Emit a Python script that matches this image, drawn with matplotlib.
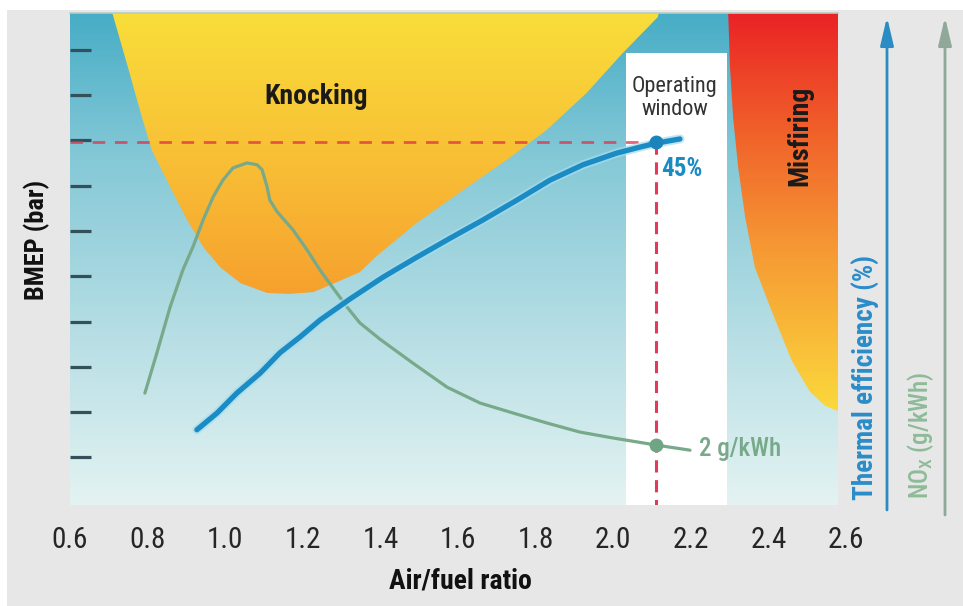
import numpy as np
import matplotlib
matplotlib.use("Agg")
import matplotlib.pyplot as plt
import matplotlib.patheffects as pe
from matplotlib.patches import Polygon, Rectangle
from matplotlib.colors import LinearSegmentedColormap

# ---- data (x = air/fuel ratio, y = BMEP tick units) ----
afr_ticks = [0.6, 0.8, 1.0, 1.2, 1.4, 1.6, 1.8, 2.0, 2.2, 2.4, 2.6]
afr_minor = [0.8, 1.0, 1.2, 1.4, 1.6, 1.8, 2.0, 2.2, 2.4]
bmep_ticks = [1, 2, 3, 4, 5, 6, 7, 8, 9, 10]

thermal_afr = [0.927, 0.979, 1.030, 1.090, 1.141, 1.193, 1.244, 1.322, 1.407, 1.494, 1.580,
               1.664, 1.752, 1.837, 1.922, 2.010, 2.069, 2.113, 2.172]
thermal_y = [1.61, 1.98, 2.42, 2.86, 3.31, 3.66, 4.03, 4.50, 4.98, 5.42, 5.84,
             6.24, 6.68, 7.12, 7.46, 7.72, 7.85, 7.94, 8.03]

nox_afr = [0.793, 0.824, 0.858, 0.891, 0.917, 0.943, 0.969, 0.994, 1.020, 1.056, 1.082,
           1.095, 1.108, 1.115, 1.134, 1.175, 1.211, 1.244, 1.278, 1.314, 1.347, 1.399,
           1.484, 1.572, 1.657, 1.742, 1.829, 1.914, 1.999, 2.113, 2.198]
nox_y = [2.42, 3.31, 4.32, 5.14, 5.65, 6.24, 6.75, 7.12, 7.39, 7.50, 7.46,
         7.35, 6.97, 6.68, 6.42, 6.02, 5.58, 5.14, 4.74, 4.32, 3.97, 3.61,
         3.08, 2.55, 2.20, 1.98, 1.76, 1.56, 1.43, 1.27, 1.16]

knock_afr = [0.706, 0.749, 0.786, 0.811, 0.858, 0.902, 0.943, 0.987, 1.039, 1.108, 1.167,
             1.227, 1.288, 1.347, 1.391, 1.494, 1.613, 1.726, 1.829, 1.932, 2.025, 2.115, 2.12]
knock_y = [10.9, 9.62, 8.49, 7.78, 6.97, 6.24, 5.65, 5.20, 4.85, 4.63, 4.61,
           4.65, 4.87, 5.09, 5.45, 6.18, 6.90, 7.57, 8.23, 9.05, 9.93, 10.72, 10.9]

misfire_afr = [2.296, 2.301, 2.309, 2.322, 2.340, 2.365, 2.409, 2.461, 2.507, 2.546, 2.566, 2.60, 2.60]
misfire_y = [10.9, 9.62, 8.51, 7.41, 6.31, 5.20, 4.22, 3.12, 2.45, 2.14, 2.07, 1.95, 10.9]

window_afr = [2.033, 2.293]
window_top = 9.93

op_afr = 2.11
op_thermal = 7.96
op_nox = 1.28

plt.rcParams['font.family'] = ['Roboto Condensed', 'DejaVu Sans']

xmin, xmax = 0.6, 2.6
panel_right = 2.579
ymin, ymax = -0.05, 10.81

fig = plt.figure(figsize=(9.63, 6.06), dpi=100)
fig.patch.set_facecolor('white')
fig.patches.append(Rectangle((7 / 963, 0), 1, 596 / 606, transform=fig.transFigure,
                             facecolor='#e7e7e7', edgecolor='none', zorder=-10))

ax = fig.add_axes([70 / 963, 101 / 606, 776 / 963, 492 / 606])
ax.patch.set_visible(False)


def vgrad(stops, y0, y1, clip=None, z=0):
    cmap = LinearSegmentedColormap.from_list('g', stops)
    grad = np.linspace(0, 1, 256).reshape(-1, 1)
    im = ax.imshow(grad, cmap=cmap, extent=[xmin, panel_right, y0, y1], origin='lower',
                   aspect='auto', zorder=z, interpolation='bilinear')
    if clip is not None:
        im.set_clip_path(clip)
    return im


# background of plot area
vgrad([(0, '#e4f3f2'), (0.35, '#b6dee4'), (0.7, '#86c9d7'), (1, '#47adc6')], ymin, ymax, z=0)

# knocking region
knock_poly = Polygon(list(zip(knock_afr, knock_y)), closed=True, fill=False, edgecolor='none')
ax.add_patch(knock_poly)
vgrad([(0, '#f6a02e'), (0.45, '#f8bd35'), (1, '#f9de3a')], 4.55, ymax, clip=knock_poly, z=1)

# misfiring region
mis_poly = Polygon(list(zip(misfire_afr, misfire_y)), closed=True, fill=False, edgecolor='none')
ax.add_patch(mis_poly)
vgrad([(0, '#fbd93c'), (0.4, '#f69a34'), (0.7, '#f0612a'), (1, '#ea2226')], 2.0, ymax, clip=mis_poly, z=1)

# operating window
ax.add_patch(Rectangle((window_afr[0], ymin), window_afr[1] - window_afr[0], window_top - ymin,
                       facecolor='white', edgecolor='none', zorder=2))

# dashed guides
ax.plot([xmin, op_afr], [op_thermal, op_thermal], color='#e0304a', alpha=0.75, lw=2,
        linestyle=(0, (4.5, 3.5)), zorder=3)
ax.plot([op_afr, op_afr], [op_thermal, ymin], color='#e5385a', lw=2.2,
        linestyle=(0, (4, 2.5)), zorder=3)

# curves
ax.plot(nox_afr, nox_y, color='#77a98a', lw=2.3, solid_capstyle='round',
        solid_joinstyle='round', zorder=4)
ax.plot(thermal_afr, thermal_y, color='#1a8cc3', lw=3.8, solid_capstyle='round',
        solid_joinstyle='round', zorder=5,
        path_effects=[pe.Stroke(linewidth=6.5, foreground='#a6dcef', alpha=0.7), pe.Normal()])
ax.plot([op_afr], [op_thermal], 'o', color='#1a84bb', ms=9, zorder=6)
ax.plot([op_afr], [op_nox], 'o', color='#6fa583', ms=9, zorder=6)

# axes styling
ax.set_xlim(xmin, xmax)
ax.set_ylim(ymin, ymax)
for s in ['left', 'right', 'bottom']:
    ax.spines[s].set_visible(False)
ax.spines['top'].set_bounds(xmin, panel_right)
ax.spines['top'].set_color('#b8cdc3')
ax.spines['top'].set_linewidth(1.2)

ax.set_yticks(bmep_ticks)
ax.set_yticklabels([])
ax.tick_params(axis='y', direction='in', length=15, width=2.3, color='#34505a')
ax.set_xticks(afr_ticks)
ax.set_xticklabels([f'{v:.1f}' for v in afr_ticks], fontsize=21, color='#262626')
ax.tick_params(axis='x', which='major', length=0, pad=15)
ax.set_xticks(afr_minor, minor=True)
ax.tick_params(axis='x', which='minor', direction='in', length=7, width=1.8, color='#333333')

# labels
ax.text(1.234, 8.96, 'Knocking', fontsize=20, fontweight='bold', color='#1a1a1a',
        ha='center', va='center', zorder=7)
ax.text(2.159, 8.94, 'Operating\nwindow', fontsize=16, color='#333333', ha='center',
        va='center', linespacing=1.15, zorder=7)
ax.text(2.481, 8.10, 'Misfiring', fontsize=20, fontweight='bold', color='#1a1a1a',
        rotation=90, ha='center', va='center', zorder=7)
ax.annotate('45%', xy=(op_afr, op_thermal), xytext=(4, -19), textcoords='offset points',
            fontsize=18, fontweight='bold', color='#1a8cc3', ha='left', va='center', zorder=7)
ax.annotate('2 g/kWh', xy=(op_afr, op_nox), xytext=(31, -3), textcoords='offset points',
            fontsize=18, fontweight='medium', color='#77a98a', ha='left', va='center', zorder=7)

fig.text(37 / 963, 1 - 240 / 606, 'BMEP (bar)', rotation=90, fontsize=19, fontweight='bold',
         color='#111111', ha='center', va='center')
fig.text(460 / 963, 1 - 581 / 606, 'Air/fuel ratio', fontsize=20, fontweight='bold',
         color='#111111', ha='center', va='center')

# right-hand axis arrows
ax.annotate('', xy=(887 / 963, 1 - 17 / 606), xytext=(887 / 963, 1 - 510 / 606),
            xycoords='figure fraction', textcoords='figure fraction',
            arrowprops=dict(arrowstyle='-|>,head_length=0.85,head_width=0.2', color='#2a8cc2',
                            lw=2, mutation_scale=20, shrinkA=0, shrinkB=0))
ax.annotate('', xy=(945 / 963, 1 - 17 / 606), xytext=(945 / 963, 1 - 515 / 606),
            xycoords='figure fraction', textcoords='figure fraction',
            arrowprops=dict(arrowstyle='-|>,head_length=0.85,head_width=0.2', color='#8fa89a',
                            lw=2, mutation_scale=20, shrinkA=0, shrinkB=0))
fig.text(866 / 963, 1 - 378 / 606, 'Thermal efficiency (%)', rotation=90, fontsize=19.5,
         fontweight='bold', color='#2a8cc8', ha='center', va='center')
fig.text(921 / 963, 1 - 435 / 606, r'NO$_\mathregular{X}$ (g/kWh)', rotation=90, fontsize=18,
         fontweight='medium', color='#8dbb98', ha='center', va='center')

fig.savefig('out.png', dpi=100)
